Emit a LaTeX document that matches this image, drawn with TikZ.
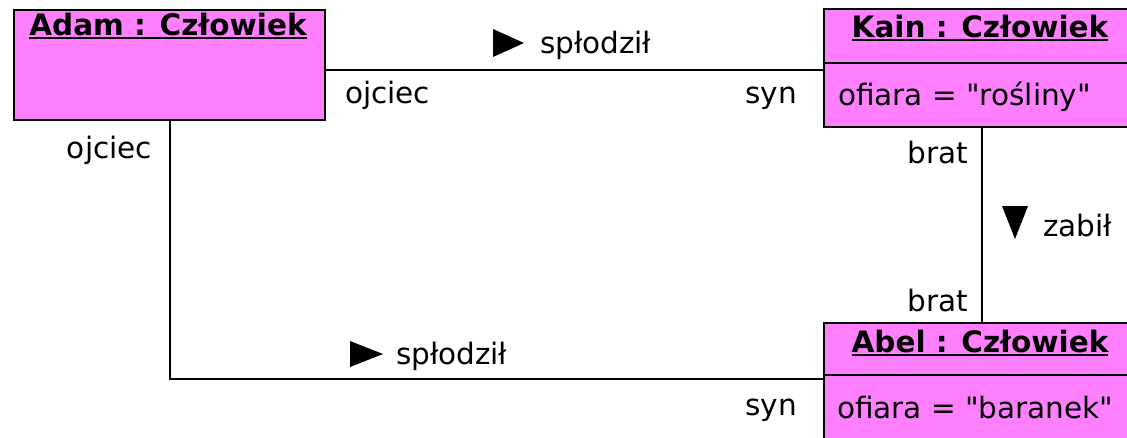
\documentclass[tikz,border=0pt]{standalone}
\usepackage{fontspec}
\setmainfont[Ligatures=TeXOff]{DejaVu Sans}
\definecolor{objfill}{RGB}{255,128,255}
\begin{document}
\begin{tikzpicture}[x=1pt,y=-1pt,
  every node/.style={inner sep=0pt, outer sep=0pt, font=\fontsize{29.5}{34}\selectfont},
  objbox/.style={draw=black, fill=objfill, line width=2pt, anchor=north west},
  objtitle/.style={anchor=base, font=\fontsize{29.5}{34}\selectfont\bfseries},
  uline/.style={line width=2pt},
  assoc/.style={line width=2pt},
  lblw/.style={anchor=base west},
  lble/.style={anchor=base east},
  dirmark/.style={fill=black}]
\useasboundingbox (0,0) rectangle (1127,437);

% objects
\node[objbox, minimum width=311pt, minimum height=110pt] (adam) at (14,10) {};
\node[objbox, minimum width=316pt, minimum height=118pt] (kain) at (824,9) {};
\node[objbox, minimum width=316pt, minimum height=116pt] (abel) at (824,323) {};
\draw[uline] (kain.west |- 0,63) -- (kain.east |- 0,63);
\draw[uline] (abel.west |- 0,375) -- (abel.east |- 0,375);

% object names, underlined
\node[objtitle] (adamt) at (168,35) {Adam : Człowiek};
\node[objtitle] (kaint) at (980,37) {Kain : Człowiek};
\node[objtitle] (abelt) at (980,352) {Abel : Człowiek};
\foreach \t in {adamt,kaint,abelt}
  \draw[uline] ([yshift=-2.5pt]\t.base west) -- ([yshift=-2.5pt]\t.base east);

% attributes
\node[lblw] (kaina) at (838,105) {ofiara = "rośliny"};
\node[lblw] (abela) at (837,418) {ofiara = "baranek"};

% links
\draw[assoc] ([yshift=-2pt]adam.east |- kain.west) -- ([yshift=-2pt]kain.west);
\draw[assoc] (adam.south) |- ([yshift=2pt]abel.west);
\draw[assoc] (kain.south) -- (abel.north);

% role names
\node[lblw] (r1) at (345,103) {ojciec};
\node[lble] (r2) at (797,103) {syn};
\node[lble] (r3) at (152,158) {ojciec};
\node[lble] (r4) at (797,415) {syn};
\node[lble] (r5) at (968,163) {brat};
\node[lble] (r6) at (968,311) {brat};

% association names with reading direction
\node[lblw] (n1) at (540,53) {spłodził};
\fill[dirmark] (493,29) -- (524,43) -- (493,57) -- cycle;
\node[lblw] (n2) at (396,364) {spłodził};
\fill[dirmark] (350,341) -- (383,354) -- (350,367) -- cycle;
\node[lblw] (n3) at (1043,236) {zabił};
\fill[dirmark] (1002,206) -- (1028,206) -- (1015,239) -- cycle;
\end{tikzpicture}
\end{document}
